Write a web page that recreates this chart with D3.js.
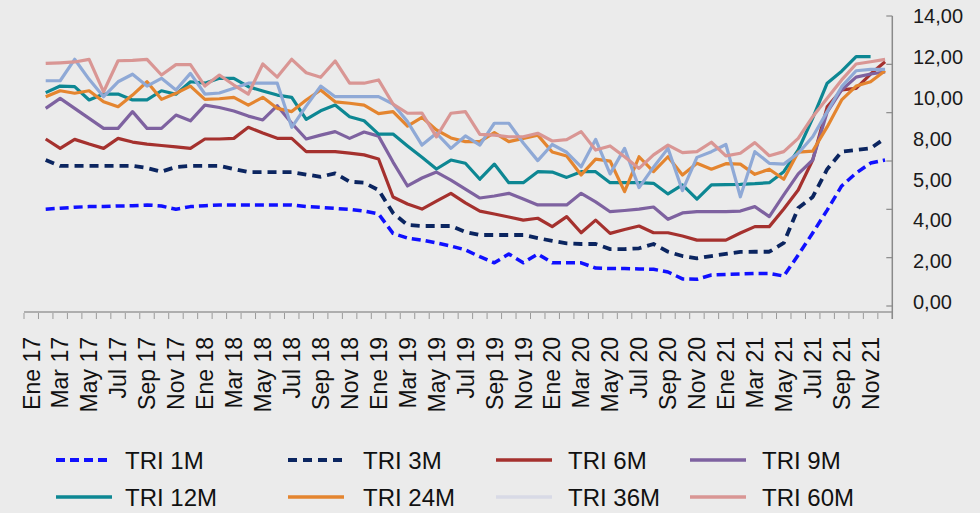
<!DOCTYPE html>
<html>
<head>
<meta charset="utf-8">
<script src="https://cdn.jsdelivr.net/npm/d3@7"></script>
<style>
  body { margin: 0; background: #ebebeb; }
  svg { display: block; font-family: "Liberation Sans", Arial, sans-serif; }
</style>
</head>
<body>
<svg id="chart" width="980" height="513"></svg>
<script>
(() => {
  /* ---------- DATA ---------- */

  const MONTHS = ["Ene", "Feb", "Mar", "Abr", "May", "Jun", "Jul", "Ago", "Sep", "Oct", "Nov", "Dic"];
  const YEARS = ["17", "18", "19", "20", "21"];
  const CATEGORIES = YEARS.flatMap(yr => MONTHS.map(m => `${m} ${yr}`));

  const Y_TICKS = [0, 2, 4, 6, 8, 10, 12, 14];
  const Y_TICK_LABELS = ["0,00", "2,00", "4,00", "5,00", "8,00", "10,00", "12,00", "14,00"];

  const TRI_1M = [null,4.54,4.59,4.64,4.67,4.67,4.70,4.71,4.75,4.70,4.54,4.67,4.71,4.75,4.75,4.75,4.75,4.75,4.75,4.67,4.63,4.58,4.54,4.45,4.31,3.36,3.13,3.03,2.89,2.74,2.55,2.22,1.92,2.35,1.92,2.35,1.92,1.92,1.92,1.66,1.64,1.64,1.62,1.60,1.47,1.13,1.11,1.32,1.35,1.37,1.40,1.40,1.27,2.30,3.38,4.50,5.68,6.31,6.80,6.95];
  const TRI_3M = [null,6.95,6.66,6.66,6.66,6.66,6.66,6.66,6.56,6.38,6.61,6.66,6.66,6.66,6.51,6.36,6.36,6.36,6.36,6.24,6.13,6.30,5.89,5.84,5.48,4.36,3.77,3.72,3.72,3.72,3.43,3.28,3.28,3.28,3.28,3.13,2.99,2.87,2.84,2.84,2.59,2.59,2.63,2.84,2.46,2.25,2.14,2.25,2.35,2.45,2.46,2.46,2.89,4.60,5.14,6.50,7.36,7.44,7.52,8.01];
  const TRI_6M = [null,7.98,7.52,7.96,7.73,7.52,8.01,7.83,7.73,7.66,7.59,7.52,7.98,7.98,8.01,8.55,8.27,8.01,8.01,7.36,7.36,7.36,7.29,7.20,7.00,5.14,4.80,4.55,4.94,5.32,4.85,4.45,4.31,4.16,4.01,4.10,3.69,4.18,3.39,4.01,3.36,3.55,3.72,3.39,3.39,3.23,3.03,3.03,3.03,3.38,3.69,3.69,4.55,5.48,6.95,9.55,10.38,10.46,11.16,11.76];
  const TRI_9M = [null,9.48,9.97,9.48,8.99,8.50,8.50,9.32,8.50,8.50,9.15,8.87,9.64,9.52,9.35,9.10,8.91,9.61,8.75,7.98,8.17,8.34,8.01,8.32,8.12,6.85,5.68,6.07,6.36,5.97,5.53,5.09,5.19,5.32,5.04,4.75,4.75,4.75,5.32,4.90,4.42,4.48,4.55,4.65,4.05,4.36,4.42,4.42,4.42,4.45,4.67,4.18,5.24,6.27,6.95,9.30,10.38,11.01,11.16,11.26];
  const TRI_12M = [null,10.25,10.57,10.54,9.89,10.18,10.18,9.89,9.89,10.34,10.17,10.78,10.71,10.95,10.95,10.54,10.33,10.13,10.02,8.94,9.36,9.64,9.07,8.87,8.22,8.22,7.64,7.08,6.51,6.95,6.79,6.01,6.75,5.84,5.84,6.38,6.36,6.10,6.38,6.38,5.84,5.84,5.84,5.81,5.29,5.73,5.04,5.73,5.75,5.76,5.79,5.84,6.38,7.44,9.00,10.71,11.30,12.01,12.01,null];
  const TRI_24M = [null,10.05,10.34,10.22,10.34,9.80,9.56,10.13,10.78,9.92,10.22,10.57,9.92,9.95,10.02,9.64,10.02,9.48,9.32,9.89,10.38,9.80,9.73,9.64,9.22,9.32,8.61,9.04,8.42,8.03,7.85,7.85,8.29,7.85,8.01,8.17,7.34,7.15,6.22,6.99,6.90,5.40,7.11,6.38,7.11,6.22,6.79,6.50,6.77,6.75,6.25,6.50,6.01,7.34,7.39,8.57,9.89,10.57,10.78,11.32];
  const TRI_36M = [null,10.83,10.83,11.88,10.90,10.05,10.78,11.15,10.57,10.95,10.38,11.19,10.18,10.23,10.46,10.71,10.71,10.71,8.55,9.59,10.57,10.05,10.05,10.05,10.05,9.69,8.83,7.68,8.26,7.52,8.13,7.68,8.75,8.75,7.78,6.92,7.71,7.33,6.62,7.96,6.27,7.52,5.60,6.60,7.52,5.45,7.08,7.36,7.71,5.15,7.36,6.79,6.75,7.28,8.09,9.32,10.54,11.32,11.39,11.39];
  const TRI_60M = [null,11.68,11.71,11.75,11.88,10.29,11.81,11.83,11.88,11.11,11.62,11.62,10.57,11.11,10.62,10.18,11.65,11.01,11.88,11.22,11.00,11.80,10.71,10.71,10.87,9.69,9.24,9.25,8.08,9.24,9.32,8.21,8.17,8.09,8.09,8.26,7.88,7.95,8.34,7.44,7.64,7.11,6.54,7.20,7.68,7.31,7.36,7.82,7.15,7.28,7.80,7.16,7.36,8.01,9.07,9.97,10.87,11.65,11.76,11.88];

  const SERIES = [
    { name: "TRI 1M",  values: TRI_1M,  color: "#1010ff", width: 3.5, dash: "9,5" },
    { name: "TRI 3M",  values: TRI_3M,  color: "#0b2560", width: 3.8, dash: "9,6" },
    { name: "TRI 6M",  values: TRI_6M,  color: "#a5312e", width: 3.2 },
    { name: "TRI 9M",  values: TRI_9M,  color: "#7e62a0", width: 3.2 },
    { name: "TRI 12M", values: TRI_12M, color: "#0d8793", width: 3.2 },
    { name: "TRI 24M", values: TRI_24M, color: "#e4852f", width: 3.2 },
    { name: "TRI 36M", values: TRI_36M, color: "#8fa9d6", width: 3.2, legendColor: "#d8dae6" },
    { name: "TRI 60M", values: TRI_60M, color: "#d99694", width: 3.2 }
  ];

  /* ---------- LAYOUT ---------- */

  const svg = d3.select("#chart");
  const plot = { left: 24, right: 892.3, top: 16, bottom: 302, axisY: 312 };

  svg.append("rect")
    .attr("width", 980)
    .attr("height", 513)
    .attr("fill", "#ebebeb");

  const x = d3.scaleBand()
    .domain(CATEGORIES)
    .range([plot.left, plot.right]);
  const cx = c => x(c) + x.bandwidth() / 2;

  const y = d3.scaleLinear()
    .domain([0, 14])
    .range([plot.bottom, plot.top]);

  // the right axis carries its own evenly spaced tick marks
  const tickMarks = d3.scaleLinear().domain([0, 6]).range([306, plot.top]);

  /* ---------- AXES ---------- */

  const axisColor = "#9a9a9a";

  svg.append("line")
    .attr("x1", plot.left).attr("x2", plot.right)
    .attr("y1", plot.axisY).attr("y2", plot.axisY)
    .attr("stroke", axisColor).attr("stroke-width", 1.5);

  svg.append("g")
    .selectAll("line")
    .data(d3.range(CATEGORIES.length + 1))
    .join("line")
    .attr("x1", i => plot.left + i * x.step())
    .attr("x2", i => plot.left + i * x.step())
    .attr("y1", plot.axisY + 1)
    .attr("y2", plot.axisY + 7)
    .attr("stroke", axisColor)
    .attr("stroke-width", 1);

  svg.append("g")
    .selectAll("text")
    .data(CATEGORIES.filter((c, i) => i % 2 === 0))
    .join("text")
    .attr("transform", c => `translate(${cx(c)},337) rotate(-90)`)
    .attr("text-anchor", "end")
    .attr("dy", "0.36em")
    .attr("fill", "#111")
    .style("font-size", "23px")
    .text(c => c);

  svg.append("line")
    .attr("x1", plot.right).attr("x2", plot.right)
    .attr("y1", plot.top).attr("y2", plot.axisY + 7)
    .attr("stroke", "#8a8a8a").attr("stroke-width", 1.5);

  svg.append("g")
    .selectAll("line")
    .data(d3.range(7))
    .join("line")
    .attr("x1", plot.right - 6).attr("x2", plot.right)
    .attr("y1", d => tickMarks(d)).attr("y2", d => tickMarks(d))
    .attr("stroke", "#8a8a8a").attr("stroke-width", 1.2);

  svg.append("g")
    .selectAll("text")
    .data(Y_TICKS)
    .join("text")
    .attr("x", 913)
    .attr("y", d => y(d))
    .attr("dy", "0.36em")
    .attr("fill", "#1a1a1a")
    .style("font-size", "20px")
    .text((d, i) => Y_TICK_LABELS[i]);

  /* ---------- LINES ---------- */

  const line = d3.line()
    .defined(d => d.v != null)
    .x(d => cx(d.c))
    .y(d => y(d.v));

  svg.append("g")
    .selectAll("path")
    .data(SERIES)
    .join("path")
    .attr("d", s => line(s.values.map((v, i) => ({ c: CATEGORIES[i], v }))))
    .attr("fill", "none")
    .attr("stroke", s => s.color)
    .attr("stroke-width", s => s.width)
    .attr("stroke-dasharray", s => s.dash || null)
    .attr("stroke-linejoin", "round");

  /* ---------- LEGEND ---------- */

  const lineX = [56, 288, 496, 690];
  const textX = [125, 363, 568, 762];
  const rowY = [460, 497];

  const legend = svg.append("g")
    .selectAll("g")
    .data(SERIES)
    .join("g")
    .attr("transform", (s, i) => `translate(0,${rowY[Math.floor(i / 4)]})`);

  legend.append("line")
    .attr("x1", (s, i) => lineX[i % 4])
    .attr("x2", (s, i) => lineX[i % 4] + 56)
    .attr("stroke", s => s.legendColor || s.color)
    .attr("stroke-width", s => s.dash ? s.width + 0.3 : 3.5)
    .attr("stroke-dasharray", s => s.dash || null);

  legend.append("text")
    .attr("x", (s, i) => textX[i % 4])
    .attr("dy", "0.36em")
    .attr("fill", "#111")
    .style("font-size", "24px")
    .text(s => s.name);
})();
</script>
</body>
</html>
